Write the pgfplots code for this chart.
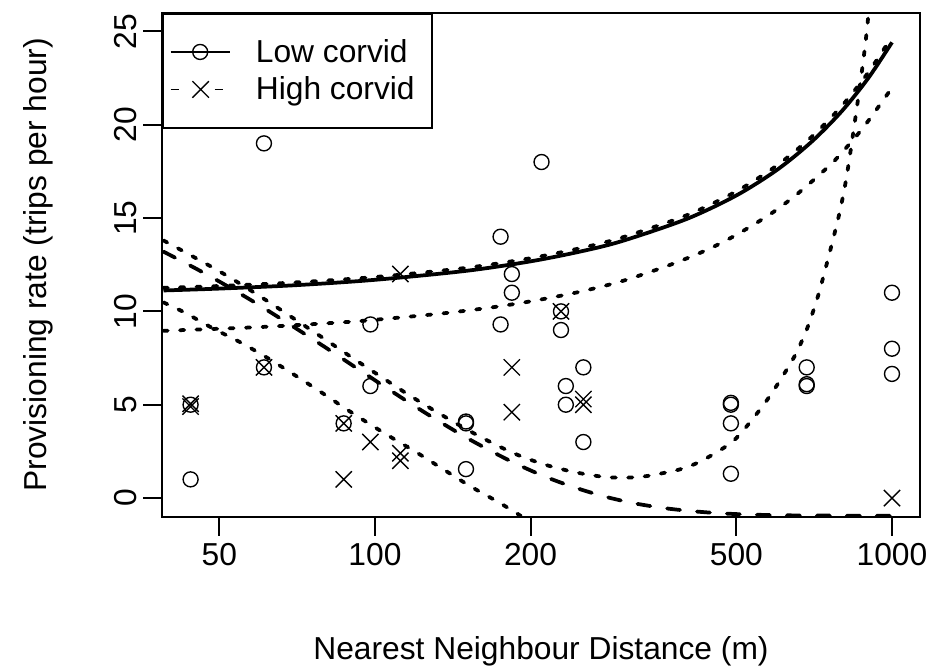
\documentclass[border=0pt]{standalone}
\usepackage{fontspec}
\setmainfont{Liberation Sans}
\usepackage{pgfplots}
\pgfplotsset{compat=1.18}

\begin{document}
\begin{tikzpicture}[font=\fontsize{12.7}{15.2}\selectfont]
\useasboundingbox (-64.8pt,-60.92pt) rectangle (309.6pt,206.68pt);
\begin{axis}[
  at={(0,0)}, anchor=south west,
  scale only axis, width=303.2pt, height=201.6pt,
  xmode=log, xmin=38.75, xmax=1133, ymin=-1, ymax=26,
  xtick={50,100,200,500,1000}, xticklabels={50,100,200,500,1000},
  ytick={0,5,10,15,20,25},
  xminorticks=false,
  xtick pos=bottom, ytick pos=left,
  tick align=outside, major tick length=7.6pt,
  every tick/.style={black, line width=0.8pt},
  axis line style={line width=0.8pt},
  /pgf/number format/assume math mode=true,
  tick label style={font=\fontsize{12.7}{15.2}\selectfont},
  xticklabel style={anchor=north, inner sep=0pt, yshift=-2.9pt},
  yticklabel style={xshift=-2.6pt, rotate=90, anchor=base, inner sep=0pt},
  xlabel={Nearest Neighbour Distance (m)},
  ylabel={Provisioning rate (trips per hour)},
  xlabel style={at={(axis description cs:0.5,-0.284)}, anchor=base, inner sep=0pt},
  ylabel style={at={(axis description cs:-0.152,0.5)}, anchor=base, inner sep=0pt},
  legend style={at={(0,1)}, anchor=north west, draw=black, line width=0.8pt,
    inner xsep=2.8pt, inner ysep=10pt, row sep=4.4pt, column sep=10.2pt,
    font=\fontsize{12.7}{15.2}\selectfont,
    nodes={inner sep=0pt, text height=9.5pt, text depth=1.1pt}},
  legend cell align=left,
]
% fitted curves
\addplot[forget plot, no marks, smooth, line width=1.5pt, line cap=round,
  dash pattern=on 1.7pt off 4.9pt] coordinates {
  (39,11.26) (50,11.36) (70,11.55) (100,11.84) (150,12.33) (200,12.85) (250,13.39)
  (300,13.95) (400,15.14) (500,16.43) (600,17.83) (700,19.36) (800,21.01) (900,22.80) (1000,24.72)};
\addplot[forget plot, no marks, smooth, line width=1.5pt] coordinates {
  (39,11.12) (50,11.22) (70,11.40) (100,11.69) (150,12.17) (200,12.68) (250,13.21)
  (300,13.76) (400,14.94) (500,16.21) (600,17.59) (700,19.10) (800,20.73) (900,22.50) (1000,24.41)};
\addplot[forget plot, no marks, smooth, line width=1.5pt, line cap=round,
  dash pattern=on 1.7pt off 4.9pt] coordinates {
  (39,8.96) (60,9.16) (86,9.41) (100,9.55) (134,9.88) (170,10.23) (206,10.6) (250,11.06)
  (303,11.65) (373,12.5) (439,13.3) (500,14.1) (581,15.2) (650,16.2) (726,17.35)
  (782,18.2) (880,19.85) (1000,21.98)};
\addplot[forget plot, no marks, smooth, line width=1.5pt, line cap=round,
  dash pattern=on 5.2pt off 6.8pt] coordinates {
  (39,13.20) (45,12.30) (50,11.60) (55,10.93) (60,10.30) (70,9.13) (80,8.09) (90,7.15)
  (100,6.31) (115,5.21) (130,4.28) (150,3.25) (170,2.43) (190,1.76) (215,1.11) (245,0.54)
  (280,0.06) (320,-0.30) (370,-0.57) (430,-0.75) (500,-0.86) (600,-0.92) (750,-0.94) (1000,-0.95)};
\addplot[forget plot, no marks, smooth, line width=1.5pt, line cap=round,
  dash pattern=on 1.7pt off 4.9pt] coordinates {
  (39,13.8) (50,12.15) (60,10.8) (70,9.58) (80,8.51) (90,7.55) (100,6.71) (115,5.61)
  (130,4.70) (150,3.70) (170,2.90) (190,2.28) (215,1.76) (245,1.37) (280,1.12) (312,1.10)
  (338,1.19) (386,1.51) (417,1.84) (449,2.31) (491,3.01) (525,3.88) (580,5.45) (645,7.49)
  (680,8.85) (700,9.8) (726,11.2) (770,13.9) (795,15.5) (818,17.3) (848,20.2) (874,22.8)
  (887,24.2) (896,25.3) (910,27.2)};
\addplot[forget plot, no marks, smooth, line width=1.5pt, line cap=round,
  dash pattern=on 1.7pt off 4.9pt] coordinates {
  (39,10.48) (42.9,9.93) (48.6,9.09) (55.1,8.32) (62.1,7.49) (70.4,6.54) (79.3,5.61)
  (89.9,4.6) (104.2,3.48) (120.9,2.41) (136.1,1.51) (153.2,0.62) (173.8,-0.24)
  (188.8,-0.85) (196,-1.15)};
% observations
\addplot[forget plot, only marks, mark=o, mark size=3pt, mark options={line width=0.55pt}] coordinates {
  (44,1) (44,5) (61,7) (61,19) (87,4) (98,9.3) (98,6) (150,4.1) (150,4.0) (150,1.55)
  (175,14) (175,9.3) (184,12) (184,11) (210,18) (229,10) (229,9) (234,6) (234,5)
  (253,7) (253,3) (488,5.1) (488,5.0) (488,4) (488,1.3) (684,7) (684,6.1) (684,6.0)
  (1000,11) (1000,8) (1000,6.65)};
\addplot[forget plot, only marks, mark=x, mark size=4.6pt, mark options={line width=0.55pt}] coordinates {
  (44,5.05) (44,4.9) (61,7) (87,4) (87,1) (98,3) (112,12) (112,2.4) (112,2.0)
  (184,7) (184,4.6) (229,10) (253,5.3) (253,5.0) (1000,0)};
% legend
\addlegendimage{legend image code/.code={%
  \draw[line width=0.55pt] (0pt,0pt) -- (23.6pt,0pt);
  \draw[line width=0.55pt] (11.8pt,0pt) circle[radius=3pt];}}
\addlegendentry{Low corvid\hspace*{4pt}}
\addlegendimage{legend image code/.code={%
  \draw[line width=0.55pt] (0pt,0pt) -- (3.4pt,0pt) (17.6pt,0pt) -- (21pt,0pt);
  \draw[line width=0.55pt] (8.7pt,-3.3pt) -- (15.3pt,3.3pt) (8.7pt,3.3pt) -- (15.3pt,-3.3pt);}}
\addlegendentry{High corvid\hspace*{4pt}}
\end{axis}
\end{tikzpicture}
\end{document}
